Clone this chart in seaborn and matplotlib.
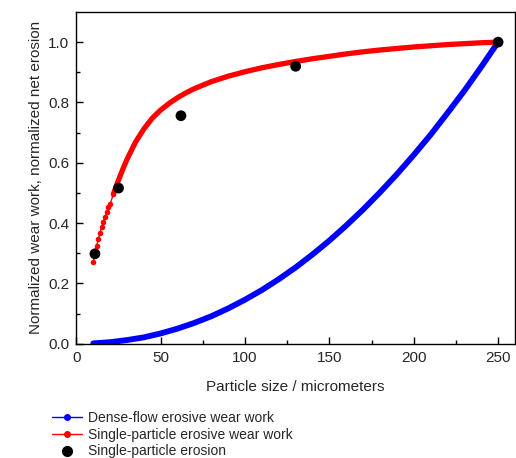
import matplotlib
matplotlib.use("Agg")
import matplotlib.pyplot as plt
from matplotlib.lines import Line2D
import seaborn as sns
import numpy as np

# values
dense_x = [10, 20, 30, 40, 50, 60, 70, 80, 90, 100, 110, 120, 130, 140, 150,
           160, 170, 180, 190, 200, 210, 220, 230, 240, 250]
dense_y = [0.001, 0.005, 0.012, 0.021, 0.034, 0.050, 0.069, 0.091, 0.117, 0.146,
           0.178, 0.214, 0.253, 0.296, 0.342, 0.392, 0.445, 0.502, 0.562, 0.626,
           0.693, 0.765, 0.839, 0.918, 1.000]

single_x = [10, 11, 12, 13, 14, 15, 16, 17, 18, 19, 20, 22, 24, 26, 28, 30, 35,
            40, 45, 50, 55, 60, 65, 70, 80, 90, 100, 110, 120, 130, 140, 150,
            160, 170, 180, 190, 200, 210, 220, 230, 240, 250]
single_y = [0.270, 0.298, 0.323, 0.346, 0.367, 0.386, 0.404, 0.421, 0.437, 0.452,
            0.463, 0.497, 0.528, 0.557, 0.585, 0.611, 0.668, 0.712, 0.748, 0.775,
            0.797, 0.816, 0.832, 0.846, 0.869, 0.887, 0.902, 0.915, 0.926, 0.936,
            0.945, 0.953, 0.961, 0.968, 0.974, 0.979, 0.984, 0.988, 0.992, 0.995,
            0.998, 1.000]

erosion_x = [11, 25, 62, 130, 250]
erosion_y = [0.298, 0.516, 0.756, 0.920, 1.000]

sns.set_style("ticks")
plt.rcParams['font.family'] = ['Liberation Sans', 'DejaVu Sans']

fig = plt.figure(figsize=(5.16, 4.58), dpi=100)
ax = fig.add_axes([0.148, 0.2496, 0.850, 0.7242])

# dense-flow curve (dots so tight they read as a thick line)
sns.lineplot(x=dense_x, y=dense_y, ax=ax, color='blue', lw=4.2, legend=False)

# single-particle curve: separate dots at the start, thick line further on
n = 12
sns.lineplot(x=single_x[:n], y=single_y[:n], ax=ax, color='red', lw=1.0,
             marker='o', markersize=4.0, markeredgewidth=0, legend=False)
sns.lineplot(x=single_x[n - 1:], y=single_y[n - 1:], ax=ax, color='red', lw=3.8,
             legend=False)

sns.scatterplot(x=erosion_x, y=erosion_y, ax=ax, color='black', s=60,
                edgecolor='none', zorder=5, legend=False)

ax.set_xlim(0, 260)
ax.set_ylim(0, 1.1)
ax.set_xticks([0, 50, 100, 150, 200, 250])
ax.set_xticks(np.arange(25, 260, 50), minor=True)
ax.set_yticks([0.0, 0.2, 0.4, 0.6, 0.8, 1.0])
ax.set_yticks(np.arange(0.1, 1.1, 0.2), minor=True)
ax.set_yticklabels(['0.0', '0.2', '0.4', '0.6', '0.8', '1.0'])
ax.tick_params(which='both', direction='in', top=False, right=False,
               labelsize=11, width=1, color='black')
ax.tick_params(which='major', length=5, pad=5)
ax.tick_params(which='minor', length=3)
for s in ax.spines.values():
    s.set_visible(True)
    s.set_color('black')
    s.set_linewidth(1)

ax.set_xlabel("Particle size / micrometers", fontsize=11, labelpad=11)
ax.set_ylabel("Normalized wear work, normalized net erosion", fontsize=11,
              labelpad=4)

handles = [
    Line2D([], [], color='blue', lw=1, marker='o', markersize=4),
    Line2D([], [], color='red', lw=1, marker='o', markersize=4),
    Line2D([], [], color='black', lw=0, marker='o', markersize=7),
]
labels = ["Dense-flow erosive wear work", "Single-particle erosive wear work",
          "Single-particle erosion"]
fig.legend(handles, labels, loc='upper left', bbox_to_anchor=(0.100, 0.103),
           frameon=False, fontsize=10, handlelength=2.2, handletextpad=0.4,
           labelspacing=0.2, borderpad=0, borderaxespad=0)

fig.savefig("out.png", dpi=100)
